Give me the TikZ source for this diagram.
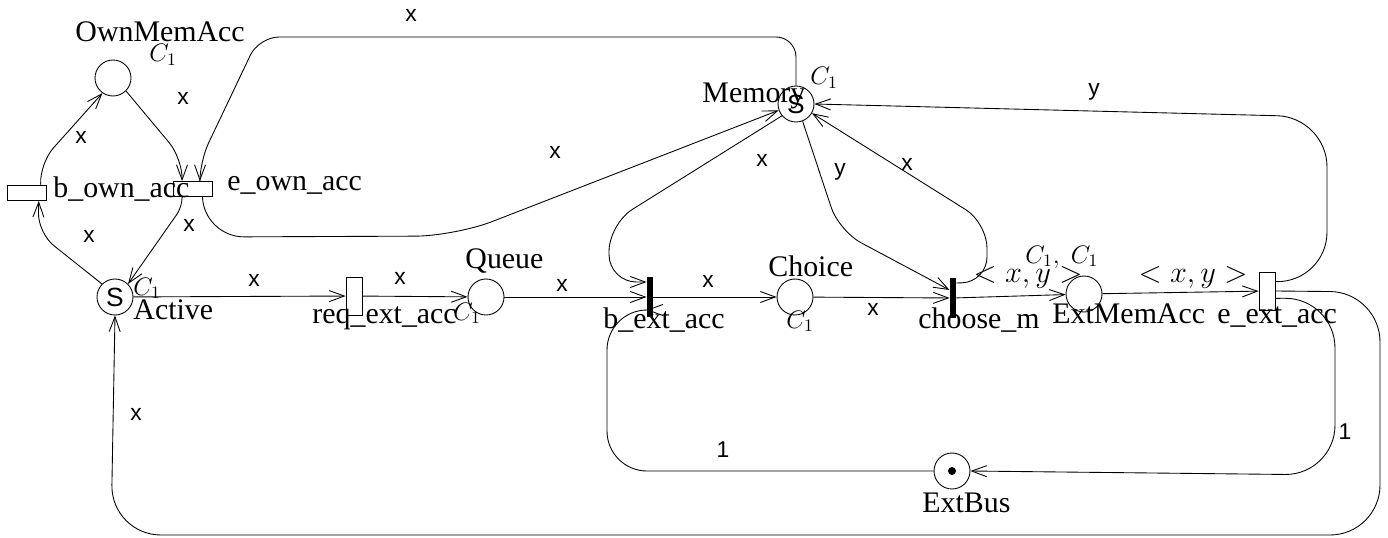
\documentclass[tikz,border=0pt]{standalone}
\usepackage{fontspec}
\setmainfont{Liberation Serif}
\setsansfont{Liberation Sans}
\usetikzlibrary{arrows.meta,calc}

\begin{document}
\begin{tikzpicture}[x=0.02cm,y=-0.02cm,line width=0.5pt,
  >={Straight Barb[length=0.3cm,width=0.22cm]},
  place/.style={circle,draw,minimum size=0.72cm,inner sep=0pt,font=\fontsize{15}{15}\sffamily},
  htrans/.style={rectangle,draw,minimum width=0.78cm,minimum height=0.3cm,inner sep=0pt},
  vtrans/.style={rectangle,draw,minimum width=0.32cm,minimum height=0.76cm,inner sep=0pt},
  blacktrans/.style={rectangle,fill=black,minimum width=0.12cm,minimum height=0.8cm,inner sep=0pt},
  pname/.style={inner sep=0pt,anchor=base west,font=\fontsize{17}{17}\selectfont},
  ptype/.style={inner sep=0pt,anchor=base west,font=\fontsize{14}{14}\selectfont},
  pair/.style={inner sep=0pt,font=\fontsize{16}{16}\selectfont},
  inscr/.style={inner sep=0pt,font=\fontsize{13}{13}\sffamily}]
\useasboundingbox (0,0) rectangle (1388,537);

\node[place] (OwnMemAcc) at (113,78) {};
\node[place] (Active) at (115,297) {S};
\node[place] (Memory) at (796,104) {S};
\node[place] (Queue) at (486,297) {};
\node[place] (Choice) at (795,297) {};
\node[place] (ExtMemAcc) at (1084,294) {};
\node[place] (ExtBus) at (952,471) {};
\fill (ExtBus) circle (0.08cm);

\node[htrans] (bOwnAcc) at (27,193) {};
\node[htrans] (eOwnAcc) at (193,189) {};
\node[vtrans] (reqExtAcc) at (354,296) {};
\node[vtrans] (eExtAcc) at (1267,291) {};
\node[blacktrans] (bExtAcc) at (650,297) {};
\node[blacktrans] (chooseM) at (953,298) {};

\node[pname] (lOwnMemAcc) at (75,42) {OwnMemAcc};
\node[pname] (lbOwnAcc) at (53,197) {b\_own\_acc};
\node[pname] (leOwnAcc) at (227,190) {e\_own\_acc};
\node[pname] (lActive) at (133,319) {Active};
\node[pname] (lreqExtAcc) at (312,323) {req\_ext\_acc};
\node[pname] (lQueue) at (465,268) {Queue};
\node[pname] (lbExtAcc) at (603,328) {b\_ext\_acc};
\node[pname] (lChoice) at (768,276) {Choice};
\node[pname] (lchooseM) at (918,328) {choose\_m};
\node[pname] (lExtMemAcc) at (1052,323) {ExtMemAcc};
\node[pname] (leExtAcc) at (1217,323) {e\_ext\_acc};
\node[pname] (lMemory) at (702,102) {Memory};
\node[pname] (lExtBus) at (922,512) {ExtBus};

\node[ptype] (cOwnMemAcc) at (149,62) {$C_1$};
\node[ptype] (cActive) at (133,295) {$C_1$};
\node[ptype] (cQueue) at (453,320) {$C_1$};
\node[ptype] (cChoice) at (786,328) {$C_1$};
\node[ptype] (cMemory) at (810,85) {$C_1$};
\node[ptype] (cExtMemAcc) at (1025,263) {$C_1,\;C_1$};

\draw[->,rounded corners=0.4cm] (bOwnAcc.30) -- (40,163) -- (OwnMemAcc.235);
\draw[->,rounded corners=0.4cm] (OwnMemAcc.-45) -- (182,158) -- (eOwnAcc.144);
\draw[->,rounded corners=0.4cm] (Active.135) -- (38,233) -- (bOwnAcc.-34);
\draw[->,rounded corners=0.18cm] (eOwnAcc.216) -- (182,207) -- (Active.45);
\draw[->,rounded corners=0.4cm] (Memory.north) -- (796,37) -- (259,37) -- (200,161) -- (eOwnAcc.49);
\draw[->,rounded corners=0.8cm] (eOwnAcc.-40) -- (204,237) -- (455,236) -- (Memory.200);

\draw[->] (Active) -- (reqExtAcc);
\draw[->] (reqExtAcc) -- (Queue);
\draw[->] (Queue) -- (bExtAcc);
\draw[->] (bExtAcc) -- (Choice);
\draw[->] (Choice) -- (chooseM);
\draw[->] (chooseM) -- (ExtMemAcc);
\draw[->] (ExtMemAcc) -- (eExtAcc);

\draw[->,rounded corners=0.55cm] (Memory.220) -- (609,224) -- (609,282) -- ($(bExtAcc.west)+(0,-15)$);
\draw[->,rounded corners=0.5cm] (Memory.-69) -- (839,231) -- ($(chooseM.west)+(0,-8)$);
\draw[->,rounded corners=0.5cm] ($(chooseM.east)+(0,-15)$) -- (987,282) -- (987,223) -- (Memory.-30);
\draw[->,rounded corners=1cm] (eExtAcc.48) -- (1327,282) -- (1327,117) -- (Memory.east);
\draw[->,rounded corners=1cm] (eExtAcc.-41) -- (1335,298) -- (1335,475) -- (ExtBus.east);
\draw[->,rounded corners=0.8cm] (ExtBus.west) -- (607,471) -- (607,310) -- ($(bExtAcc.west)+(0,13)$);
\draw[->,rounded corners=1cm] (eExtAcc.east) -- (1380,292) -- (1380,535) -- (111,535) -- (Active.south);

\node[inscr] (iTop) at (411,15) {x};
\node[inscr] (iOwnOut) at (183,98) {x};
\node[inscr] (iOwnIn) at (81,137) {x};
\node[inscr] (iActOut) at (89,236) {x};
\node[inscr] (iActIn) at (189,225) {x};
\node[inscr] (iReq) at (254,280) {x};
\node[inscr] (iQueueIn) at (400,278) {x};
\node[inscr] (iQueueOut) at (562,285) {x};
\node[inscr] (iChoiceIn) at (708,281) {x};
\node[inscr] (iChoiceOut) at (873,309) {x};
\node[inscr] (iMemOwn) at (555,152) {x};
\node[inscr] (iMemB) at (762,160) {x};
\node[inscr] (iMemChoose) at (840,172) {y};
\node[inscr] (iChooseMem) at (907,164) {x};
\node[inscr] (iExtMem) at (1094,92) {y};
\node[inscr] (iBusB) at (723,450) {1};
\node[inscr] (iBusE) at (1345,432) {1};
\node[inscr] (iBack) at (136,414) {x};
\node[pair] (iPair) at (1028,277) {$<x,y>$};
\node[pair] (iPairOut) at (1193,277) {$<x,y>$};
\end{tikzpicture}
\end{document}
